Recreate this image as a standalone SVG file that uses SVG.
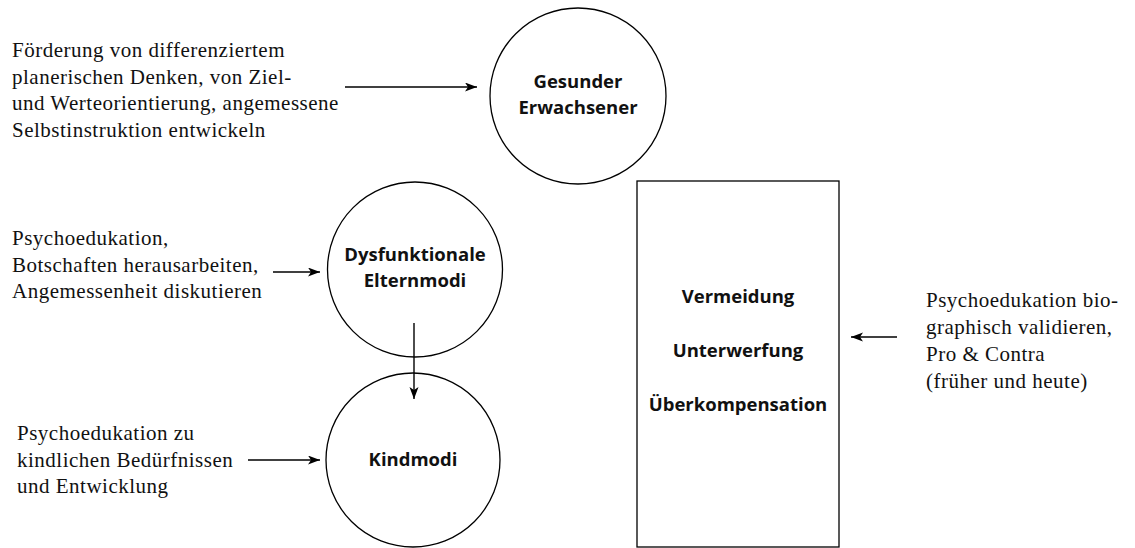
<svg xmlns="http://www.w3.org/2000/svg" width="1135" height="548" viewBox="0 0 1135 548">
  <style>
    .shape { fill: #ffffff; stroke: #000000; stroke-width: 1.3; }
    .link { fill: none; stroke: #000000; stroke-width: 1.4; marker-end: url(#head); }
    .node { font-family: "Open Sans", "Noto Sans", sans-serif; font-weight: 700; font-size: 18.5px; fill: #111111; text-anchor: middle; }
    .note { font-family: "Liberation Serif", "Times New Roman", serif; font-size: 21px; letter-spacing: 0.5px; fill: #111111; }
  </style>
  <defs>
    <marker id="head" markerUnits="userSpaceOnUse" markerWidth="14" markerHeight="10" refX="12" refY="4.5" orient="auto">
      <path d="M0,0 L12,4.5 L0,9 L3,4.5 Z" fill="#000000"/>
    </marker>
  </defs>
  <rect width="1135" height="548" fill="#ffffff"/>

  <!-- modes -->
  <g id="gesunder-erwachsener">
    <circle class="shape" cx="578" cy="96" r="88"/>
    <text class="node" x="578" y="88">Gesunder</text>
    <text class="node" x="578" y="114">Erwachsener</text>
  </g>
  <g id="elternmodi">
    <circle class="shape" cx="415" cy="269.5" r="87.5"/>
    <text class="node" x="415" y="261">Dysfunktionale</text>
    <text class="node" x="415" y="287">Elternmodi</text>
  </g>
  <g id="kindmodi">
    <circle class="shape" cx="413" cy="460" r="87"/>
    <text class="node" x="413" y="466">Kindmodi</text>
  </g>
  <g id="bewaeltigung">
    <rect class="shape" x="637" y="181" width="202" height="366"/>
    <text class="node" x="738" y="303">Vermeidung</text>
    <text class="node" x="738" y="357">Unterwerfung</text>
    <text class="node" x="738" y="411">Überkompensation</text>
  </g>

  <!-- interventions -->
  <g id="note-erwachsener">
    <text class="note" x="12" y="57">Förderung von differenziertem</text>
    <text class="note" x="12" y="83.5">planerischen Denken, von Ziel-</text>
    <text class="note" x="12" y="110">und Werteorientierung, angemessene</text>
    <text class="note" x="12" y="136.5">Selbstinstruktion entwickeln</text>
  </g>
  <g id="note-eltern">
    <text class="note" x="12" y="245">Psychoedukation,</text>
    <text class="note" x="12" y="271.5">Botschaften herausarbeiten,</text>
    <text class="note" x="12" y="298">Angemessenheit diskutieren</text>
  </g>
  <g id="note-kind">
    <text class="note" x="17" y="440">Psychoedukation zu</text>
    <text class="note" x="17" y="466.5">kindlichen Bedürfnissen</text>
    <text class="note" x="17" y="493">und Entwicklung</text>
  </g>
  <g id="note-bewaeltigung">
    <text class="note" x="926" y="307">Psychoedukation bio-</text>
    <text class="note" x="926" y="334">graphisch validieren,</text>
    <text class="note" x="926" y="361">Pro &amp; Contra</text>
    <text class="note" x="926" y="388">(früher und heute)</text>
  </g>

  <!-- connectors -->
  <g id="connectors">
    <line class="link" x1="345" y1="87" x2="477" y2="87"/>
    <line class="link" x1="273" y1="272" x2="320" y2="272"/>
    <line class="link" x1="248" y1="460" x2="320" y2="460"/>
    <line class="link" x1="414" y1="323" x2="414" y2="399"/>
    <line class="link" x1="897" y1="337" x2="851" y2="337"/>
  </g>
</svg>
